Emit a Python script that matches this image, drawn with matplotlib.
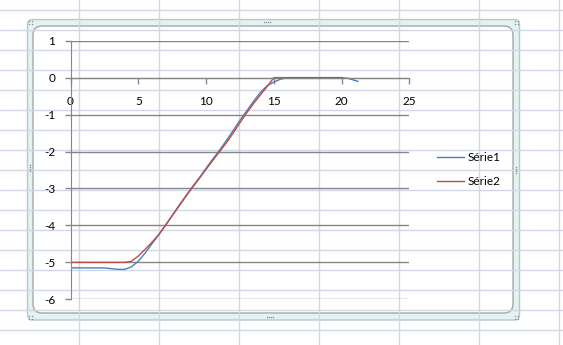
import matplotlib
matplotlib.use("Agg")
from matplotlib import pyplot as plt
from matplotlib.patches import FancyBboxPatch

# x values shared by both series
x_vals = [0, 0.5, 1, 1.5, 2, 2.5, 3, 3.5, 4, 4.5, 5, 5.5, 6, 6.5, 7, 7.5, 8, 8.5,
          9, 9.5, 10, 10.5, 11, 11.5, 12, 12.5, 13, 13.5, 14, 14.5, 15, 15.5,
          16, 16.5, 17, 17.5, 18, 18.5, 19, 19.5, 20]
serie1 = [-5.15, -5.15, -5.15, -5.15, -5.15, -5.15, -5.17, -5.19, -5.19, -5.12,
          -4.97, -4.75, -4.5, -4.26, -4.0, -3.73, -3.46, -3.2, -2.95, -2.71,
          -2.45, -2.2, -1.96, -1.7, -1.43, -1.15, -0.9, -0.64, -0.4, -0.22,
          -0.12, -0.04, 0, 0, 0, 0, 0, 0, 0, 0, 0]
serie1_tail_x = [20.5, 21, 21.2]
serie1_tail_y = [-0.02, -0.08, -0.1]
serie2 = [-5, -5, -5, -5, -5, -5, -5, -5, -5, -4.97, -4.83, -4.65, -4.46, -4.25,
          -4.0, -3.74, -3.48, -3.22, -2.97, -2.73, -2.48, -2.24, -2.0, -1.76,
          -1.5, -1.22, -0.95, -0.7, -0.47, -0.24, 0, 0, 0, 0, 0, 0, 0, 0, 0, 0, 0]
labels = ["Série1", "Série2"]
x_ticks = [0, 5, 10, 15, 20, 25]
y_ticks = [1, 0, -1, -2, -3, -4, -5, -6]

W, H = 563, 345
plt.rcParams['font.family'] = ['Lato', 'DejaVu Sans']
plt.rcParams['axes.unicode_minus'] = False
fig = plt.figure(figsize=(W / 100, H / 100), dpi=100)

# spreadsheet background with its cell grid, in pixel units
bg = fig.add_axes([0, 0, 1, 1])
bg.set_xlim(0, W)
bg.set_ylim(H, 0)
bg.axis('off')
for gx in range(78, W, 80):
    bg.axvline(gx + 0.5, color='#d0d7e5', lw=1)
for gy in range(9, H, 20):
    bg.axhline(gy + 0.5, color='#d0d7e5', lw=1)

# chart frame (selected chart look)
bg.add_patch(FancyBboxPatch((27.5, 19.5), 492, 300.5,
                            boxstyle="round,pad=0,rounding_size=5",
                            fc='#e3f3f3', ec='#b8c8cc', lw=1))
bg.add_patch(FancyBboxPatch((33, 26), 480, 287,
                            boxstyle="round,pad=0,rounding_size=9",
                            fc='white', ec='#a6a6a6', lw=1))
# resize handles: little rows of dots
dot = dict(marker='s', ms=0.9, mew=0, color='#7d8a90', ls='none')
for hx, hy, horiz in [(267, 22, True), (270, 317, True), (30, 168, False), (516, 170, False)]:
    offs = [-3, -1, 1, 3]
    if horiz:
        bg.plot([hx + k for k in offs], [hy] * 4, **dot)
    else:
        bg.plot([hx] * 4, [hy + k for k in offs], **dot)
for cx, cy in [(30, 22), (516, 22), (30, 317), (516, 317)]:
    bg.plot([cx - 1.5, cx + 1.5, cx - 1.5, cx + 1.5],
            [cy - 1.5, cy - 1.5, cy + 1.5, cy + 1.5], **dot)

# plot area
ax = fig.add_axes([70.5 / W, 1 - 299.3 / H, (409.5 - 70.5) / W, (299.3 - 40.7) / H])
ax.patch.set_visible(False)
ax.plot(x_vals + serie1_tail_x, serie1 + serie1_tail_y, color='#4a7ebb', lw=1, label=labels[0])
ax.plot(x_vals, serie2, color='#be4b48', lw=1, label=labels[1])

ax.set_xlim(0, 25)
ax.set_ylim(-6, 1)
ax.set_xticks(x_ticks)
ax.set_yticks(y_ticks)
ax.grid(axis='y', color='#868686', lw=1)
ax.set_axisbelow(True)
for s in ['top', 'right']:
    ax.spines[s].set_visible(False)
ax.spines['bottom'].set_position(('data', 0))
ax.spines['bottom'].set_color('#868686')
ax.spines['left'].set_color('#868686')
ax.tick_params(axis='both', colors='#868686', labelcolor='black', labelsize=8.5, length=4, width=1)
ax.tick_params(axis='x', pad=9)
ax.tick_params(axis='y', pad=7)

fig.legend(loc='center left', bbox_to_anchor=(436.7 / W, 1 - 169.2 / H), frameon=False,
           fontsize=8.5, handlelength=2.3, handletextpad=0.3, labelspacing=1.1,
           borderpad=0, borderaxespad=0)

plt.savefig("out.png", dpi=100)
